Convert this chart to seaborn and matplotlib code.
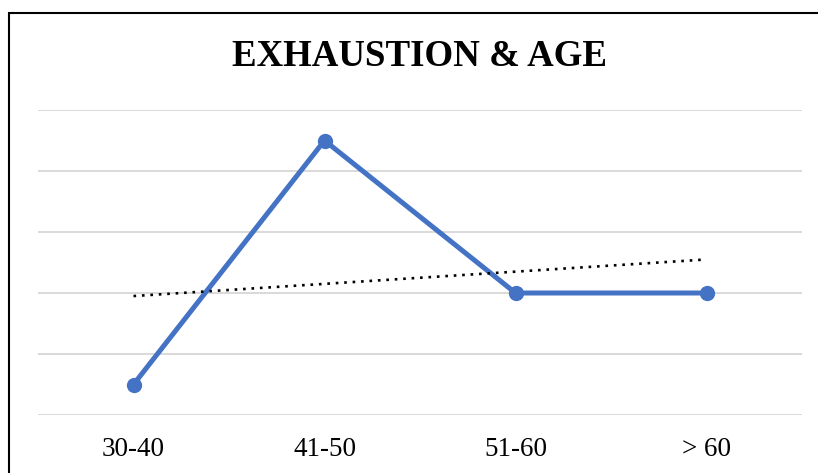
import matplotlib
matplotlib.use("Agg")
import matplotlib.pyplot as plt
import seaborn as sns
import numpy as np
import pandas as pd
from matplotlib.patches import Rectangle

# Data
age_groups = ["30-40", "41-50", "51-60", "> 60"]
exhaustion = [0.5, 4.5, 2.0, 2.0]
title_text = "EXHAUSTION & AGE"

df = pd.DataFrame({"age": age_groups, "pos": np.arange(len(age_groups)), "value": exhaustion})

sns.set_theme(style="white")
plt.rcParams["font.family"] = ["Liberation Serif", "DejaVu Serif"]

W, H = 818, 473
fig = plt.figure(figsize=(W / 100, H / 100), dpi=100)
ax = fig.add_axes([38 / W, 1 - 415 / H, 764 / W, 305 / H])

line_color = "#4472C4"

# Horizontal gridlines
ax.set_ylim(0, 5)
ax.set_yticks(np.arange(0, 6, 1))
ax.yaxis.grid(True, color="#D9D9D9", linewidth=1.4)
ax.set_axisbelow(True)

# Main series
sns.lineplot(data=df, x="pos", y="value", ax=ax, color=line_color, linewidth=3.6,
             marker="o", markersize=11, markeredgewidth=0, zorder=3)

# Linear trend line
sns.regplot(data=df, x="pos", y="value", ax=ax, scatter=False, ci=None, truncate=True,
            line_kws={"color": "black", "linestyle": (0, (1, 2.2)), "linewidth": 1.9, "zorder": 4})

ax.set_xlim(-0.5, len(age_groups) - 0.5)
ax.set_xticks(np.arange(len(age_groups)))
ax.set_xticklabels(age_groups, fontsize=19.5)
ax.tick_params(axis="x", length=0, pad=16, colors="black")
ax.set_yticklabels([])
ax.tick_params(axis="y", length=0)
ax.set_xlabel("")
ax.set_ylabel("")
for s in ax.spines.values():
    s.set_visible(False)

fig.text(420 / W, 1 - 57 / H, title_text, ha="center", va="center",
         fontsize=26.6, fontweight="bold", color="black")

# Chart frame
fig.patches.append(Rectangle((8.5 / W, -0.1), 1.2, 1.1 - 13.5 / H, transform=fig.transFigure,
                             fill=False, edgecolor="black", linewidth=1.5))

fig.savefig("out.png", dpi=100, facecolor="white")
